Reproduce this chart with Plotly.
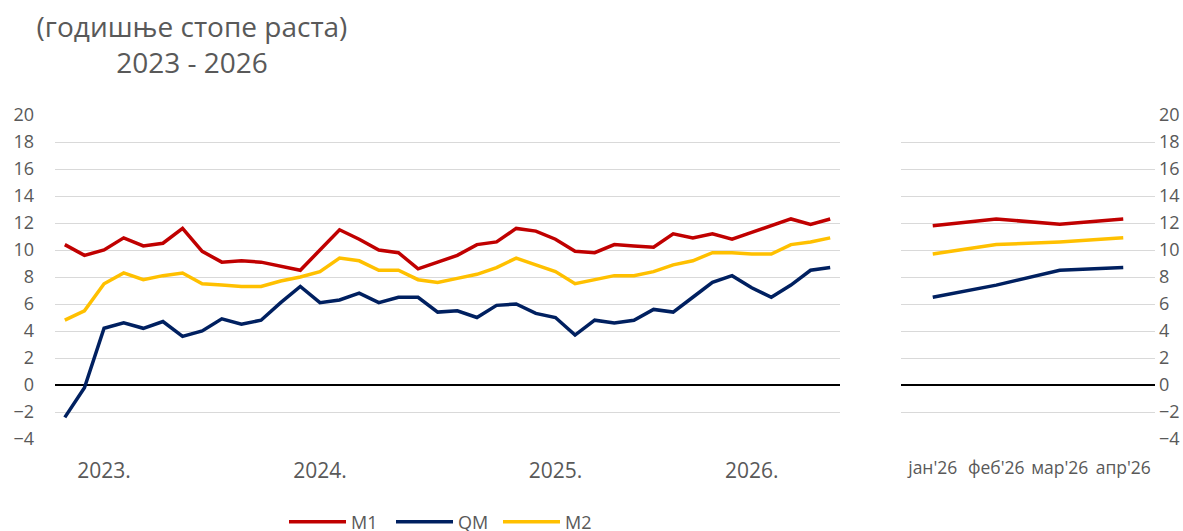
import plotly.graph_objects as go

months = ["01.23", "02.23", "03.23", "04.23", "05.23", "06.23", "07.23", "08.23", "09.23", "10.23", "11.23", "12.23",
          "01.24", "02.24", "03.24", "04.24", "05.24", "06.24", "07.24", "08.24", "09.24", "10.24", "11.24", "12.24",
          "01.25", "02.25", "03.25", "04.25", "05.25", "06.25", "07.25", "08.25", "09.25", "10.25", "11.25", "12.25",
          "01.26", "02.26", "03.26", "04.26"]

M1 = [10.4, 9.6, 10.0, 10.9, 10.3, 10.5, 11.6, 9.9, 9.1, 9.2, 9.1, 8.8, 8.5, 10.0, 11.5, 10.8, 10.0, 9.8, 8.6, 9.1,
      9.6, 10.4, 10.6, 11.6, 11.4, 10.8, 9.9, 9.8, 10.4, 10.3, 10.2, 11.2, 10.9, 11.2, 10.8, 11.3, 11.8, 12.3, 11.9, 12.3]
QM = [-2.4, -0.2, 4.2, 4.6, 4.2, 4.7, 3.6, 4.0, 4.9, 4.5, 4.8, 6.1, 7.3, 6.1, 6.3, 6.8, 6.1, 6.5, 6.5, 5.4,
      5.5, 5.0, 5.9, 6.0, 5.3, 5.0, 3.7, 4.8, 4.6, 4.8, 5.6, 5.4, 6.5, 7.6, 8.1, 7.2, 6.5, 7.4, 8.5, 8.7]
M2 = [4.8, 5.5, 7.5, 8.3, 7.8, 8.1, 8.3, 7.5, 7.4, 7.3, 7.3, 7.7, 8.0, 8.4, 9.4, 9.2, 8.5, 8.5, 7.8, 7.6,
      7.9, 8.2, 8.7, 9.4, 8.9, 8.4, 7.5, 7.8, 8.1, 8.1, 8.4, 8.9, 9.2, 9.8, 9.8, 9.7, 9.7, 10.4, 10.6, 10.9]

year_tick_pos = [2, 13, 25, 35]
year_labels = ["2023.", "2024.", "2025.", "2026."]
recent_labels = ["јан'26", "феб'26", "мар'26", "апр'26"]
y_ticks = [-4, -2, 0, 2, 4, 6, 8, 10, 12, 14, 16, 18, 20]

series = [("M1", M1, "#C00000"), ("QM", QM, "#002060"), ("M2", M2, "#FFC000")]

TXT = "#595959"
FONT = "Open Sans"

fig = go.Figure()
for name, vals, col in series:
    fig.add_trace(go.Scatter(x=months, y=vals, mode="lines", name=name,
                             line=dict(color=col, width=3.5), xaxis="x", yaxis="y"))
for name, vals, col in series:
    fig.add_trace(go.Scatter(x=recent_labels, y=vals[-4:], mode="lines", name=name, showlegend=False,
                             line=dict(color=col, width=3.5), xaxis="x2", yaxis="y2"))

W, H = 1183, 531
ml, mr, mt, mb = 55, 28, 115, 92
pw = W - ml - mr
ph = H - mt - mb

yax = dict(range=[-4, 20], tickvals=y_ticks, showgrid=True, gridcolor="#D9D9D9", gridwidth=1.3,
           zeroline=True, zerolinecolor="#000000", zerolinewidth=1.5, showline=False,
           tickfont=dict(family=FONT, size=18, color=TXT), automargin=False, fixedrange=True)

fig.update_layout(
    width=W, height=H,
    margin=dict(l=ml, r=mr, t=mt, b=mb, pad=0, autoexpand=False),
    paper_bgcolor="white", plot_bgcolor="white",
    template="none",
    font=dict(family=FONT, color=TXT),
    title=dict(text="(годишње стопе раста)<br>2023 - 2026", x=192 / W, xanchor="center",
               y=1 - 36.5 / H, yanchor="middle", yref="container",
               font=dict(family=FONT, size=28, color=TXT)),
    xaxis=dict(domain=[0, (840 - ml) / pw], type="category", range=[-0.5, 39.5],
               tickvals=year_tick_pos, ticktext=year_labels, showgrid=False, zeroline=False,
               showline=False, ticks="", ticklabelstandoff=17,
               tickfont=dict(family=FONT, size=21, color=TXT), automargin=False, fixedrange=True),
    xaxis2=dict(domain=[(901 - ml) / pw, 1.0], type="category", range=[-0.5, 3.5], anchor="y2",
                showgrid=False, zeroline=False, showline=False, ticks="", ticklabelstandoff=16,
                tickfont=dict(family=FONT, size=17.5, color=TXT), automargin=False, fixedrange=True),
    yaxis=dict(**yax, side="left", anchor="x", ticklabelstandoff=20),
    yaxis2=dict(**yax, side="right", anchor="x2", ticklabelstandoff=3),
    legend=dict(orientation="h", x=284 / W, xanchor="left", xref="container",
                y=1 - 522 / H, yanchor="middle", yref="container",
                font=dict(family=FONT, size=18, color=TXT), itemwidth=57,
                entrywidth=35, entrywidthmode="pixels", bgcolor="rgba(0,0,0,0)"),
    showlegend=True,
)

fig.write_html("out.html", config={"displayModeBar": False},
               post_script="document.body.style.margin='0';document.body.style.overflow='hidden';")
